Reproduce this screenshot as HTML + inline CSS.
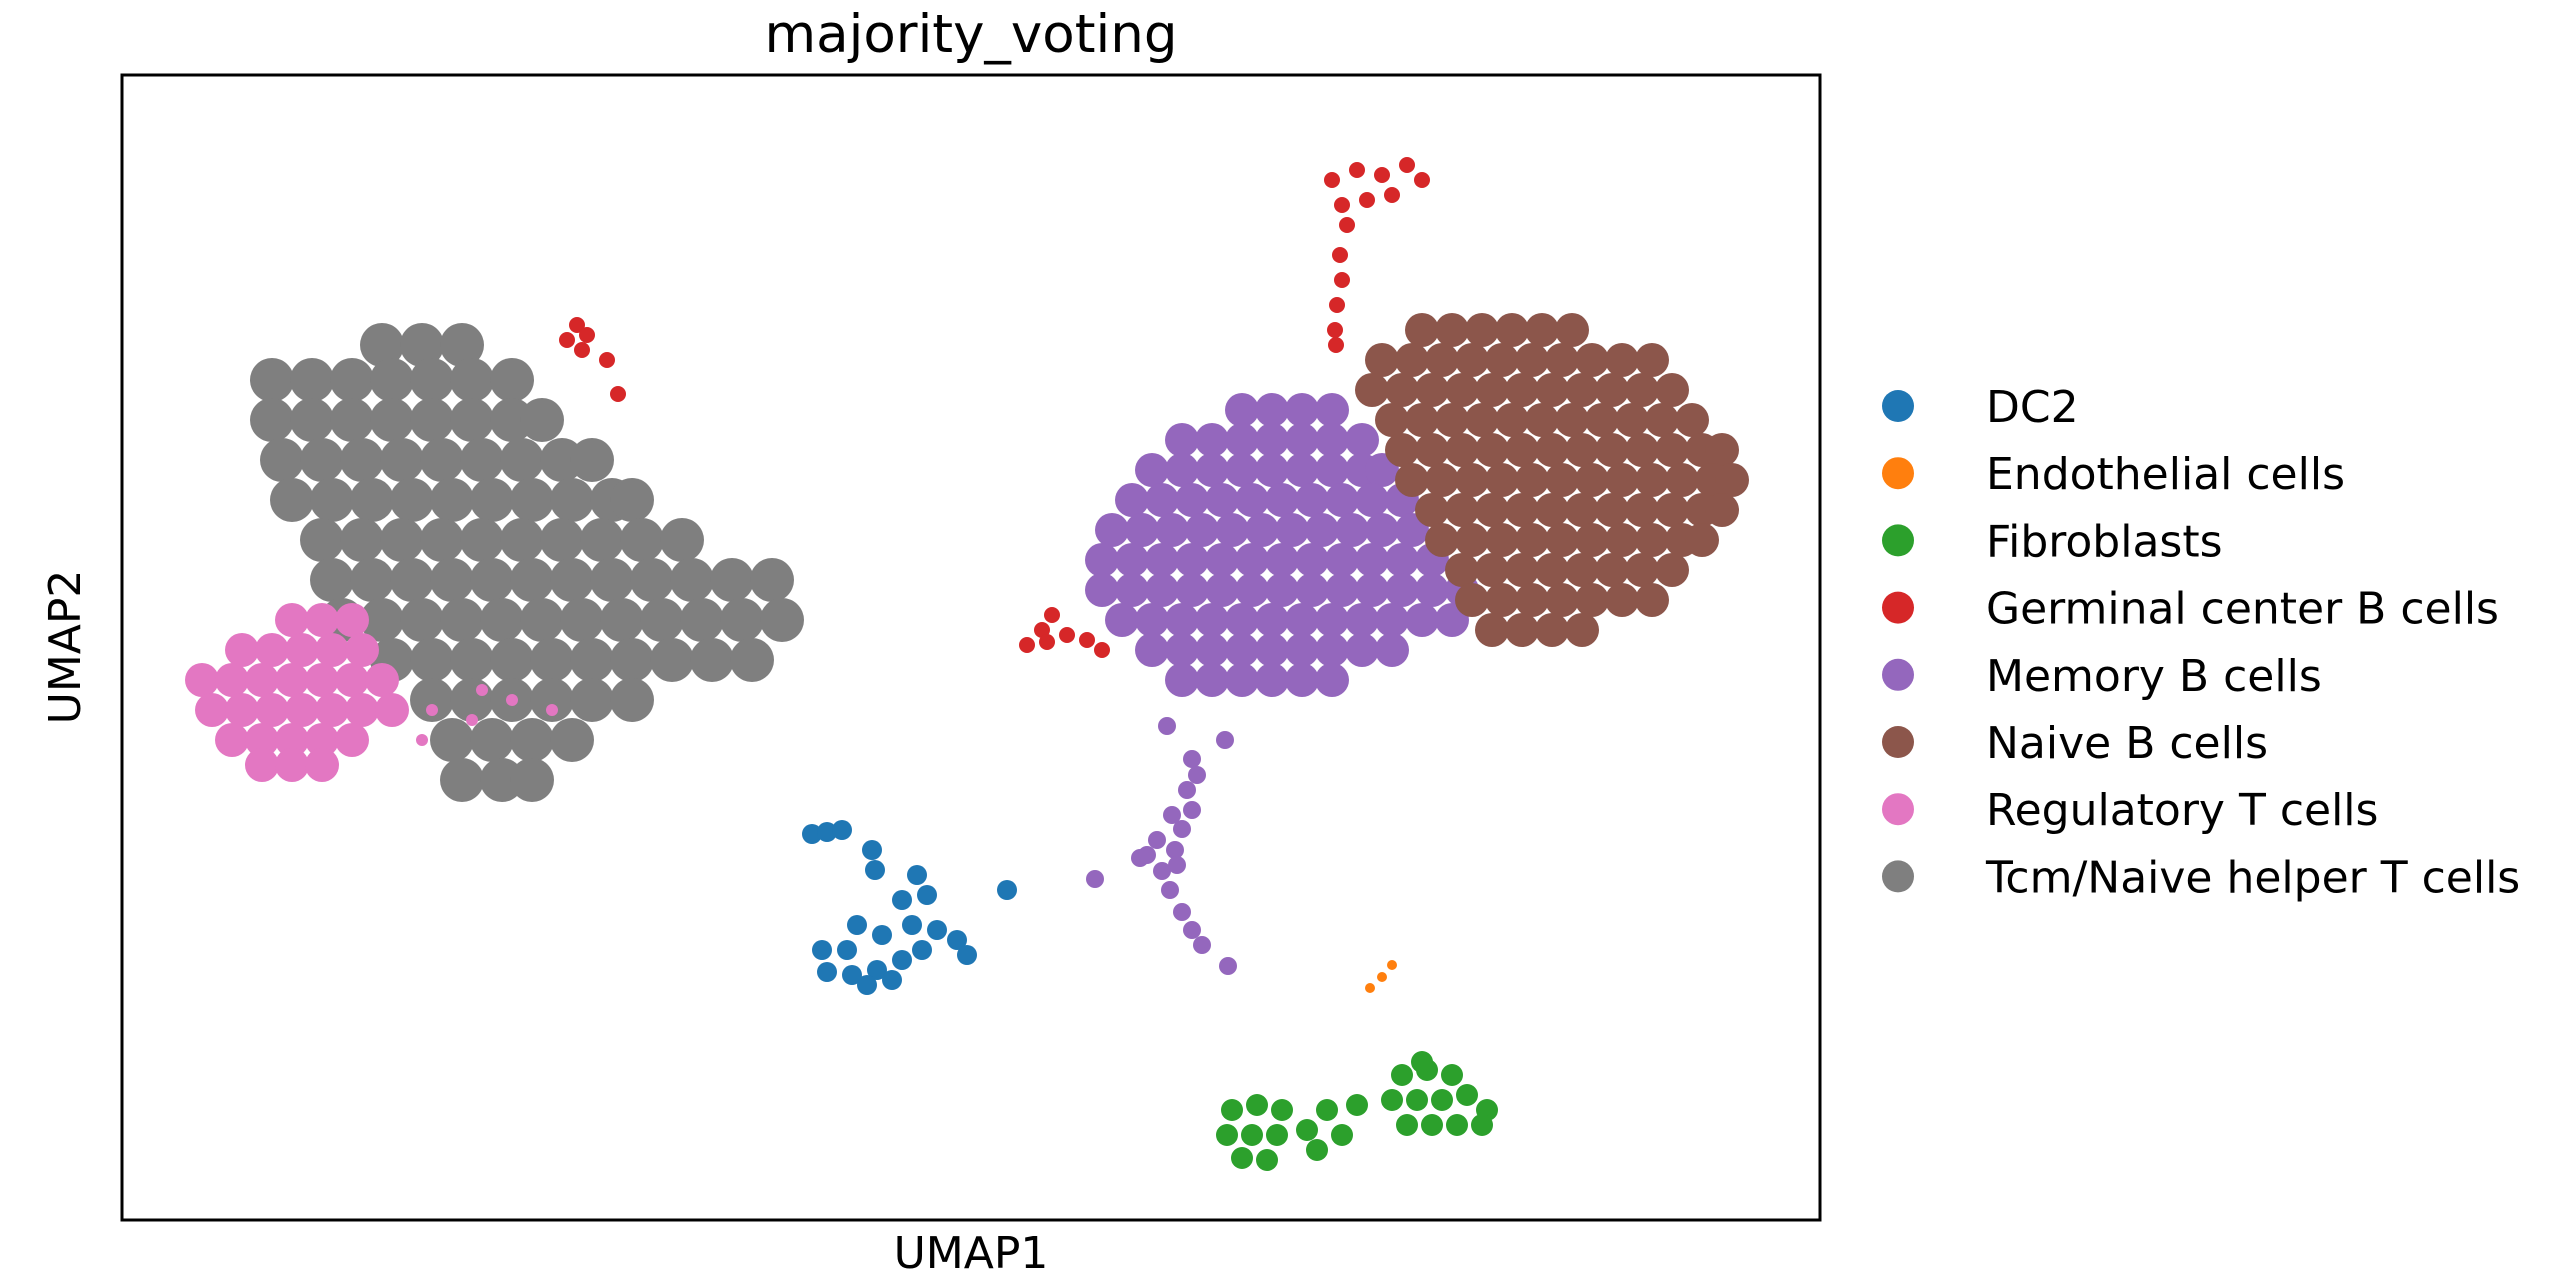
<!DOCTYPE html>
<html><head><meta charset="utf-8"><style>
html,body{margin:0;padding:0;background:#fff;}
svg{display:block;font-family:"DejaVu Sans","Liberation Sans",sans-serif;}
</style></head><body>
<svg id="chart" width="2574" height="1287" viewBox="0 0 2574 1287" xmlns="http://www.w3.org/2000/svg">
<rect width="2574" height="1287" fill="#fff"/>
<text x="971" y="52" font-size="53" text-anchor="middle" fill="#000">majority_voting</text>
<g id="points"></g>
<rect x="122" y="75" width="1698" height="1145" fill="none" stroke="#000" stroke-width="3"/>
<text x="971" y="1268" font-size="44" text-anchor="middle" fill="#000">UMAP1</text>
<text x="0" y="0" font-size="44" text-anchor="middle" fill="#000" transform="translate(80,647) rotate(-90)">UMAP2</text>
<g id="legend"></g>
</svg>
<script>
const categories = ["DC2","Endothelial cells","Fibroblasts","Germinal center B cells","Memory B cells","Naive B cells","Regulatory T cells","Tcm/Naive helper T cells"];
const colors = ["#1f77b4","#ff7f0e","#2ca02c","#d62728","#9467bd","#8c564b","#e377c2","#7f7f7f"];
const dc2Points = [[69,38.6],[70.5,38.8],[72,39],[75,37],[75.3,35],[70,27],[72.5,27],[70.5,24.8],[73,24.5],[75.5,25],[78,26],[80,27],[76,28.5],[79,29.5],[81.5,29],[78,32],[80.5,32.5],[79.5,34.5],[83.5,28],[84.5,26.5],[74.5,23.5],[77,24],[73.5,29.5],[88.5,33]];
const endothelialPoints = [[127,25.5],[126,24.3],[124.8,23.2]];
const fibroblastPoints = [[111,11],[113.5,11.5],[116,11],[110.5,8.5],[113,8.5],[115.5,8.5],[112,6.2],[114.5,6],[118.5,9],[120.5,11],[122,8.5],[123.5,11.5],[119.5,7],[128,14.5],[130.5,15],[133,14.5],[127,12],[129.5,12],[132,12],[134.5,12.5],[136.5,11],[128.5,9.5],[131,9.5],[133.5,9.5],[136,9.5],[130,15.8]];
const germinalPoints = [[121,104],[123.5,105],[126,104.5],[128.5,105.5],[130,104],[122,101.5],[124.5,102],[127,102.5],[122.5,99.5],[121.8,96.5],[122,94],[121.5,91.5],[121.3,89],[121.4,87.5],[45.5,89.5],[46.5,88.5],[44.5,88],[46,87],[48.5,86],[49.6,82.6],[90.5,57.5],[92,59],[93,60.5],[94.5,58.5],[96.5,58],[98,57],[92.5,57.8]];
const memoryPoints = [
[112,81],[115,81],[118,81],[121,81],
[106,78],[109,78],[112,78],[115,78],[118,78],[121,78],[124,78],
[103,75],[106,75],[109,75],[112,75],[115,75],[118,75],[121,75],[124,75],[126,75],
[101,72],[104,72],[107,72],[110,72],[113,72],[116,72],[119,72],[122,72],[125,72],[128,72],
[99,69],[102,69],[105,69],[108,69],[111,69],[114,69],[117,69],[120,69],[123,69],[126,69],[129,69],
[98,66],[101,66],[104,66],[107,66],[110,66],[113,66],[116,66],[119,66],[122,66],[125,66],[128,66],[131,66],
[98,63],[101,63],[104,63],[107,63],[110,63],[113,63],[116,63],[119,63],[122,63],[125,63],[128,63],[131,63],[134,63],
[100,60],[103,60],[106,60],[109,60],[112,60],[115,60],[118,60],[121,60],[124,60],[127,60],[130,60],[133,60],
[103,57],[106,57],[109,57],[112,57],[115,57],[118,57],[121,57],[124,57],[127,57],
[106,54],[109,54],[112,54],[115,54],[118,54],[121,54]];
const memoryArcPoints = [[104.5,49.4],[107,46.1],[106.5,43],[106,39.1],[105.3,37],[104,34.9],[104.8,33],[106,30.8],[108,27.5],[110.6,25.4],[101.8,36.2],[97.3,34.1],[110.3,48],[103.5,38],[107,41],[102.5,36.5],[107.5,44.5],[105.5,35.5],[105,40.5],[107,29]];
const naivePoints = [
[130,89],[133,89],[136,89],[139,89],[142,89],[145,89],
[126,86],[129,86],[132,86],[135,86],[138,86],[141,86],[144,86],[147,86],[150,86],[153,86],
[125,83],[128,83],[131,83],[134,83],[137,83],[140,83],[143,83],[146,83],[149,83],[152,83],[155,83],
[127,80],[130,80],[133,80],[136,80],[139,80],[142,80],[145,80],[148,80],[151,80],[154,80],[157,80],
[128,77],[131,77],[134,77],[137,77],[140,77],[143,77],[146,77],[149,77],[152,77],[155,77],[158,77],[160,77],
[129,74],[132,74],[135,74],[138,74],[141,74],[144,74],[147,74],[150,74],[153,74],[156,74],[159,74],[161,74],
[131,71],[134,71],[137,71],[140,71],[143,71],[146,71],[149,71],[152,71],[155,71],[158,71],[160,71],
[132,68],[135,68],[138,68],[141,68],[144,68],[147,68],[150,68],[153,68],[156,68],[158,68],
[134,65],[137,65],[140,65],[143,65],[146,65],[149,65],[152,65],[155,65],
[135,62],[138,62],[141,62],[144,62],[147,62],[150,62],[153,62],
[137,59],[140,59],[143,59],[146,59]];
const regulatoryPoints = [
[17,60],[20,60],[23,60],
[12,57],[15,57],[18,57],[21,57],[24,57],
[8,54],[11,54],[14,54],[17,54],[20,54],[23,54],[26,54],
[9,51],[12,51],[15,51],[18,51],[21,51],[24,51],[27,51],
[11,48],[14,48],[17,48],[20,48],[23,48],
[14,45.5],[17,45.5],[20,45.5]];
const regulatorySparsePoints = [[31,51],[35,50],[39,52],[43,51],[30,48],[36,53]];
const tcmPoints = [
[26,87.5],[30,87.5],[34,87.5],
[15,84],[19,84],[23,84],[27,84],[31,84],[35,84],[39,84],
[15,80],[19,80],[23,80],[27,80],[31,80],[35,80],[39,80],[42,80],
[16,76],[20,76],[24,76],[28,76],[32,76],[36,76],[40,76],[44,76],[47,76],
[17,72],[21,72],[25,72],[29,72],[33,72],[37,72],[41,72],[45,72],[49,72],[51,72],
[20,68],[24,68],[28,68],[32,68],[36,68],[40,68],[44,68],[48,68],[52,68],[56,68],
[21,64],[25,64],[29,64],[33,64],[37,64],[41,64],[45,64],[49,64],[53,64],[57,64],[61,64],[65,64],
[22,60],[26,60],[30,60],[34,60],[38,60],[42,60],[46,60],[50,60],[54,60],[58,60],[62,60],[66,60],
[27,56],[31,56],[35,56],[39,56],[43,56],[47,56],[51,56],[55,56],[59,56],[63,56],
[31,52],[35,52],[39,52],[43,52],[47,52],[51,52],
[33,48],[37,48],[41,48],[45,48],
[34,44],[38,44],[41,44]];

const X0=122, X1=1820, Y0=1220, Y1=75;
const xDomain=[0,169.8], yDomain=[0,114.5];
function xScale(v){return X0+(v-xDomain[0])/(xDomain[1]-xDomain[0])*(X1-X0);}
function yScale(v){return Y0-(v-yDomain[0])/(yDomain[1]-yDomain[0])*(Y0-Y1);}
const NS="http://www.w3.org/2000/svg";
const g=document.getElementById('points');
const series=[
 {pts:tcmPoints,ci:7,r:22,name:'tcm-naive-helper-t-point'},
 {pts:regulatoryPoints,ci:6,r:17,name:'regulatory-t-point'},
 {pts:regulatorySparsePoints,ci:6,r:6,name:'regulatory-t-point'},
 {pts:memoryPoints,ci:4,r:17,name:'memory-b-point'},
 {pts:memoryArcPoints,ci:4,r:9,name:'memory-b-point'},
 {pts:naivePoints,ci:5,r:17,name:'naive-b-point'},
 {pts:dc2Points,ci:0,r:10,name:'dc2-point'},
 {pts:endothelialPoints,ci:1,r:5,name:'endothelial-point'},
 {pts:fibroblastPoints,ci:2,r:11,name:'fibroblast-point'},
 {pts:germinalPoints,ci:3,r:8,name:'germinal-center-b-point'}
];
series.forEach(s=>{
 s.pts.forEach(p=>{
  const c=document.createElementNS(NS,'circle');
  c.setAttribute('cx',xScale(p[0]));
  c.setAttribute('cy',yScale(p[1]));
  c.setAttribute('r',s.r);
  c.setAttribute('fill',colors[s.ci]);
  
  
  g.appendChild(c);
 });
});
const lg=document.getElementById('legend');
categories.forEach((cat,i)=>{
 const y=406+i*67.2;
 const c=document.createElementNS(NS,'circle');
 c.setAttribute('cx',1898);c.setAttribute('cy',y);c.setAttribute('r',16);c.setAttribute('fill',colors[i]);
 
 
 lg.appendChild(c);
 const t=document.createElementNS(NS,'text');
 t.setAttribute('x',1986);t.setAttribute('y',y+16);t.setAttribute('font-size','44');t.setAttribute('fill','#000');
 t.textContent=cat;
 
 
 lg.appendChild(t);
});
</script>
</body></html>
